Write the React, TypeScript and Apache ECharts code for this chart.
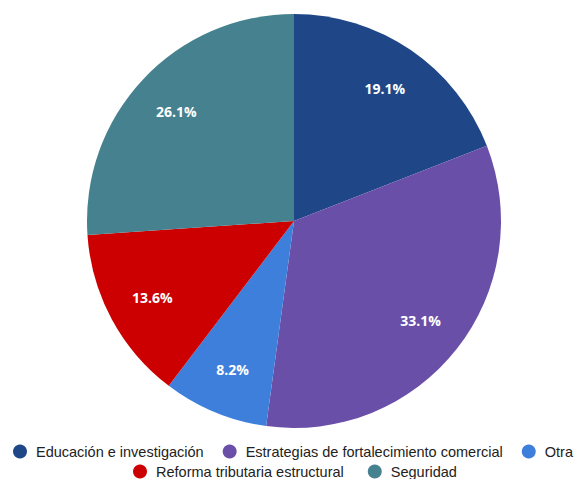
import React, { useEffect, useRef } from "react";
import * as echarts from "echarts";

const categories = [
  "Educación e investigación",
  "Estrategias de fortalecimiento comercial",
  "Otra",
  "Reforma tributaria estructural",
  "Seguridad",
];
const values = [19.1, 33.1, 8.2, 13.6, 26.1];
const colors = ["#1f4788", "#6a4fa8", "#3f7fdc", "#cc0000", "#45818e"];
const legendRow1 = categories.slice(0, 3);
const legendRow2 = categories.slice(3);

export default function App() {
  const ref = useRef<HTMLDivElement>(null);
  useEffect(() => {
    const chart = echarts.init(ref.current!, null, { renderer: "svg" });
    const data = categories.map((name, i) => ({ name, value: values[i] }));
    const legendBase = {
      orient: "horizontal",
      icon: "circle",
      itemWidth: 14,
      itemHeight: 14,
      padding: 0,
      textStyle: {
        fontFamily: "Liberation Sans, Arial",
        fontSize: 14.5,
        color: "#222",
        padding: [0, 0, 0, 4],
      },
    };
    chart.setOption({
      animation: false,
      color: colors,
      legend: [
        { ...legendBase, left: 13, top: 444, itemGap: 19, data: legendRow1 },
        { ...legendBase, left: 133, top: 464, itemGap: 24, data: legendRow2 },
      ],
      series: [
        {
          type: "pie",
          center: [294, 221],
          radius: [0, 207],
          startAngle: 90,
          clockwise: true,
          label: { show: false },
          labelLine: { show: false },
          data,
        },
        {
          type: "pie",
          center: [294, 221],
          radius: [109, 207],
          startAngle: 90,
          clockwise: true,
          silent: true,
          itemStyle: { color: "transparent" },
          label: {
            show: true,
            position: "inside",
            formatter: (p: any) => p.value.toFixed(1) + "%",
            color: "#fff",
            fontWeight: "bold",
            fontSize: 14,
            fontFamily: "Open Sans, sans-serif",
          },
          labelLine: { show: false },
          data,
        },
      ],
    });
    return () => chart.dispose();
  }, []);
  return (
    <div
      ref={ref}
      style={{ position: "fixed", left: 0, top: 0, width: 579, height: 479, background: "#fff" }}
    />
  );
}
